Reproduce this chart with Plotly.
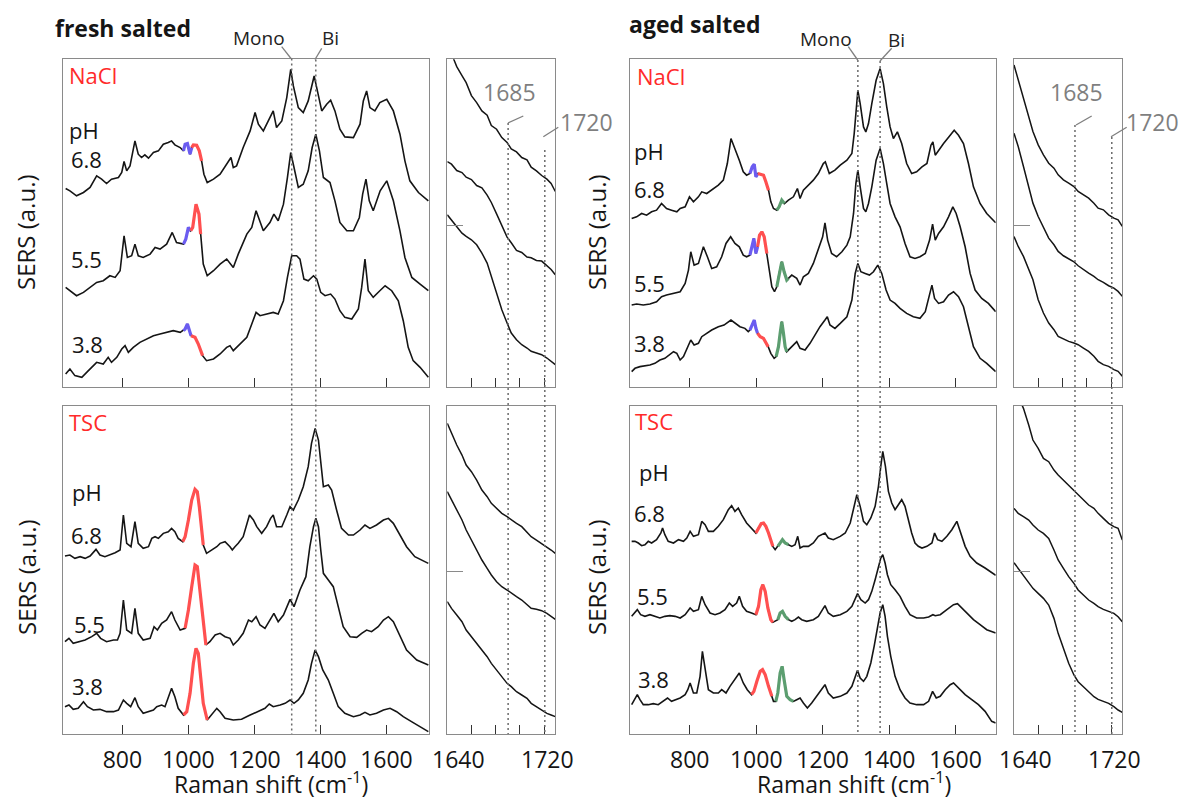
import plotly.graph_objects as go

# ---------------- DATA (Raman shift in cm-1, SERS intensity in a.u.) ----------------
# fresh salted, NaCl
FRESH_NACL_68_X = [628, 641, 661, 682, 702, 722, 737, 752, 767, 788, 798, 805, 813, 823, 838, 848, 858, 868, 879, 894, 909, 924, 939, 949, 959, 975, 985, 990, 997, 1005, 1010, 1015, 1025, 1033, 1040, 1047, 1057, 1076, 1096, 1116, 1129, 1136, 1146, 1166, 1187, 1202, 1212, 1227, 1242, 1257, 1267, 1283, 1298, 1310, 1318, 1333, 1348, 1363, 1381, 1394, 1404, 1419, 1431, 1444, 1459, 1474, 1500, 1520, 1530, 1540, 1550, 1565, 1580, 1601, 1621, 1641, 1656, 1671, 1697, 1727]
FRESH_NACL_68_Y = [597, 590, 575, 585, 600, 635, 625, 612, 625, 630, 645, 678, 650, 665, 740, 700, 690, 698, 688, 705, 710, 730, 735, 740, 728, 720, 710, 730, 732, 700, 720, 728, 727, 710, 680, 640, 615, 625, 640, 670, 690, 660, 665, 720, 770, 825, 790, 770, 800, 830, 780, 800, 870, 955, 905, 840, 825, 860, 935, 880, 830, 850, 862, 830, 775, 752, 750, 790, 860, 890, 840, 830, 855, 865, 830, 760, 680, 620, 585, 560]
FRESH_NACL_55_X = [628, 641, 661, 682, 702, 722, 742, 762, 778, 793, 805, 815, 828, 838, 848, 863, 884, 899, 914, 934, 951, 964, 985, 992, 1000, 1007, 1013, 1023, 1032, 1037, 1045, 1057, 1076, 1096, 1116, 1136, 1151, 1177, 1192, 1205, 1215, 1227, 1247, 1259, 1272, 1288, 1300, 1310, 1320, 1333, 1348, 1363, 1375, 1386, 1397, 1409, 1429, 1444, 1459, 1480, 1500, 1518, 1528, 1538, 1548, 1560, 1581, 1601, 1621, 1641, 1656, 1677, 1702, 1727]
FRESH_NACL_55_Y = [300, 290, 275, 285, 300, 315, 320, 335, 330, 350, 455, 390, 395, 430, 395, 390, 400, 420, 415, 430, 465, 435, 430, 445, 480, 470, 480, 550, 520, 460, 370, 335, 350, 370, 385, 360, 400, 460, 480, 530, 500, 470, 495, 520, 500, 550, 630, 705, 660, 600, 610, 650, 720, 760, 710, 630, 615, 560, 495, 470, 470, 510, 580, 625, 560, 530, 590, 620, 560, 470, 390, 330, 310, 290]
FRESH_NACL_38_X = [628, 641, 656, 677, 697, 722, 742, 757, 767, 783, 798, 808, 818, 833, 853, 874, 894, 914, 934, 954, 975, 985, 990, 997, 1003, 1008, 1020, 1030, 1043, 1055, 1076, 1096, 1116, 1126, 1136, 1156, 1177, 1192, 1205, 1217, 1237, 1257, 1272, 1288, 1300, 1313, 1328, 1338, 1350, 1363, 1379, 1389, 1401, 1414, 1431, 1444, 1459, 1474, 1495, 1515, 1525, 1535, 1545, 1560, 1580, 1596, 1616, 1636, 1651, 1666, 1681, 1702, 1727]
FRESH_NACL_38_Y = [40, 55, 35, 30, 50, 75, 70, 90, 75, 90, 115, 125, 105, 120, 135, 145, 155, 160, 165, 170, 165, 170, 175, 190, 170, 155, 150, 130, 95, 80, 85, 100, 120, 125, 110, 130, 150, 190, 225, 215, 220, 225, 220, 260, 330, 395, 395, 385, 325, 320, 335, 325, 285, 275, 280, 265, 230, 210, 205, 235, 300, 385, 290, 270, 290, 305, 290, 260, 200, 120, 80, 60, 30]
FRESH_NACL_68_BANDS = [(985, 1010, "a"), (1010, 1040, "b")]
FRESH_NACL_55_BANDS = [(985, 1007, "a"), (1007, 1037, "b")]
FRESH_NACL_38_BANDS = [(985, 1008, "a"), (1008, 1043, "b")]

# fresh salted, TSC
FRESH_TSC_68_X = [626, 641, 656, 672, 687, 702, 720, 732, 747, 762, 778, 793, 803, 813, 826, 838, 848, 863, 879, 889, 899, 909, 924, 939, 949, 959, 969, 983, 990, 1000, 1010, 1020, 1027, 1033, 1040, 1045, 1055, 1070, 1086, 1096, 1111, 1126, 1133, 1141, 1151, 1166, 1179, 1185, 1197, 1207, 1222, 1237, 1249, 1257, 1267, 1283, 1298, 1308, 1318, 1333, 1348, 1363, 1373, 1384, 1394, 1402, 1409, 1424, 1434, 1449, 1464, 1485, 1500, 1520, 1535, 1550, 1570, 1591, 1606, 1621, 1641, 1661, 1686, 1727]
FRESH_TSC_68_Y = [534, 537, 527, 532, 527, 534, 554, 537, 532, 537, 544, 552, 657, 572, 562, 637, 572, 557, 562, 587, 592, 587, 602, 607, 617, 607, 587, 577, 592, 642, 702, 734, 727, 682, 602, 567, 542, 552, 562, 572, 577, 562, 552, 562, 572, 592, 642, 657, 642, 622, 602, 622, 647, 657, 622, 622, 657, 682, 672, 702, 742, 802, 872, 917, 882, 802, 742, 747, 732, 672, 617, 597, 597, 612, 627, 617, 627, 642, 647, 632, 597, 562, 532, 512]
FRESH_TSC_55_X = [626, 638, 651, 672, 687, 707, 722, 734, 752, 773, 785, 793, 803, 813, 828, 838, 848, 863, 884, 896, 906, 919, 934, 949, 959, 975, 990, 1000, 1010, 1020, 1027, 1035, 1043, 1053, 1065, 1081, 1096, 1111, 1126, 1136, 1151, 1166, 1182, 1192, 1205, 1217, 1232, 1247, 1259, 1272, 1288, 1308, 1320, 1338, 1356, 1368, 1379, 1386, 1394, 1401, 1409, 1424, 1439, 1454, 1469, 1490, 1510, 1525, 1540, 1555, 1575, 1591, 1606, 1621, 1641, 1661, 1692, 1727]
FRESH_TSC_55_Y = [277, 287, 272, 277, 282, 292, 302, 287, 277, 282, 282, 302, 402, 312, 302, 377, 302, 282, 287, 322, 312, 332, 342, 367, 342, 312, 317, 372, 442, 507, 502, 432, 352, 267, 277, 297, 302, 292, 287, 267, 282, 302, 342, 337, 352, 327, 317, 342, 362, 337, 357, 404, 382, 432, 472, 562, 622, 647, 622, 552, 482, 462, 442, 382, 322, 292, 290, 302, 312, 307, 322, 342, 352, 337, 292, 252, 222, 207]
FRESH_TSC_38_X = [626, 638, 651, 666, 682, 694, 712, 732, 752, 773, 788, 803, 813, 825, 838, 848, 863, 879, 894, 904, 919, 929, 939, 949, 959, 969, 985, 995, 1005, 1015, 1023, 1030, 1037, 1045, 1057, 1070, 1086, 1096, 1111, 1136, 1161, 1187, 1212, 1232, 1245, 1257, 1278, 1293, 1308, 1320, 1333, 1348, 1363, 1373, 1384, 1394, 1407, 1424, 1439, 1454, 1474, 1500, 1520, 1535, 1550, 1570, 1591, 1611, 1631, 1651, 1676, 1702, 1727]
FRESH_TSC_38_Y = [82, 87, 74, 77, 97, 82, 72, 74, 67, 67, 72, 102, 92, 82, 109, 82, 62, 67, 72, 82, 87, 82, 107, 137, 112, 77, 57, 67, 122, 212, 257, 242, 172, 92, 42, 57, 77, 67, 47, 42, 44, 57, 67, 77, 90, 82, 87, 92, 102, 92, 102, 122, 162, 212, 252, 232, 192, 162, 122, 82, 62, 52, 57, 65, 57, 62, 72, 77, 67, 52, 37, 22, 7]
FRESH_TSC_68_BANDS = [(983, 1045, "b")]
FRESH_TSC_55_BANDS = [(990, 1053, "b")]
FRESH_TSC_38_BANDS = [(985, 1057, "b")]

# aged salted, NaCl
AGED_NACL_68_X = [625, 640, 655, 670, 685, 700, 715, 730, 745, 761, 771, 786, 799, 811, 826, 836, 851, 866, 886, 901, 913, 924, 936, 949, 961, 971, 981, 988, 994, 999, 1005, 1012, 1022, 1029, 1037, 1044, 1052, 1062, 1069, 1077, 1085, 1097, 1112, 1124, 1132, 1142, 1157, 1172, 1187, 1202, 1208, 1220, 1237, 1253, 1273, 1288, 1295, 1301, 1306, 1313, 1323, 1330, 1338, 1348, 1361, 1373, 1383, 1393, 1403, 1413, 1425, 1438, 1453, 1468, 1483, 1499, 1514, 1526, 1532, 1539, 1549, 1564, 1584, 1596, 1609, 1624, 1639, 1654, 1674, 1694, 1721]
AGED_NACL_68_Y = [507, 512, 522, 517, 527, 532, 552, 537, 532, 527, 537, 542, 572, 557, 572, 587, 582, 592, 607, 622, 672, 747, 717, 682, 647, 637, 642, 662, 670, 632, 642, 640, 637, 617, 592, 557, 537, 532, 542, 562, 552, 562, 572, 597, 567, 592, 607, 622, 642, 672, 677, 642, 652, 667, 682, 702, 762, 842, 892, 852, 782, 767, 792, 852, 922, 957, 912, 842, 782, 747, 767, 732, 672, 642, 647, 662, 672, 727, 737, 697, 712, 732, 757, 772, 757, 732, 672, 602, 552, 522, 494]
AGED_NACL_55_X = [625, 640, 660, 680, 700, 715, 730, 751, 771, 786, 796, 803, 813, 826, 841, 853, 866, 881, 896, 909, 923, 936, 949, 961, 971, 981, 986, 993, 999, 1004, 1010, 1017, 1024, 1032, 1040, 1047, 1055, 1062, 1069, 1077, 1084, 1092, 1097, 1107, 1122, 1132, 1142, 1157, 1172, 1187, 1200, 1207, 1215, 1227, 1242, 1258, 1273, 1283, 1293, 1300, 1306, 1313, 1323, 1330, 1338, 1348, 1361, 1373, 1383, 1393, 1403, 1418, 1433, 1448, 1463, 1478, 1493, 1509, 1522, 1531, 1539, 1549, 1564, 1579, 1592, 1602, 1614, 1629, 1644, 1659, 1679, 1699, 1721]
AGED_NACL_55_Y = [247, 250, 247, 250, 257, 272, 277, 282, 287, 312, 352, 407, 367, 372, 422, 392, 357, 362, 392, 432, 452, 432, 422, 397, 392, 397, 422, 447, 402, 422, 457, 467, 452, 402, 342, 302, 287, 302, 342, 377, 347, 322, 327, 337, 327, 307, 332, 342, 372, 412, 452, 494, 442, 402, 392, 407, 427, 452, 522, 612, 652, 602, 537, 527, 552, 602, 682, 717, 672, 612, 552, 512, 482, 432, 392, 387, 392, 402, 442, 490, 442, 462, 482, 512, 542, 522, 482, 422, 342, 292, 267, 252, 227]
AGED_NACL_38_X = [625, 635, 650, 665, 680, 695, 710, 725, 740, 751, 761, 771, 781, 793, 803, 813, 826, 836, 851, 866, 886, 903, 924, 939, 951, 966, 976, 981, 986, 994, 999, 1004, 1012, 1022, 1030, 1036, 1044, 1054, 1060, 1067, 1072, 1077, 1082, 1087, 1092, 1102, 1114, 1122, 1132, 1147, 1162, 1177, 1192, 1207, 1214, 1222, 1237, 1253, 1273, 1288, 1298, 1306, 1315, 1328, 1341, 1353, 1366, 1378, 1391, 1403, 1418, 1433, 1453, 1473, 1493, 1509, 1522, 1529, 1537, 1549, 1564, 1579, 1594, 1609, 1624, 1639, 1654, 1674, 1694, 1721]
AGED_NACL_38_Y = [47, 57, 62, 64, 67, 72, 82, 87, 97, 107, 102, 82, 92, 122, 142, 127, 132, 152, 162, 172, 182, 187, 202, 192, 182, 177, 167, 172, 182, 202, 177, 162, 152, 147, 132, 122, 102, 87, 92, 122, 162, 197, 162, 122, 107, 117, 127, 137, 117, 112, 132, 157, 182, 202, 212, 187, 177, 192, 212, 262, 342, 372, 347, 342, 337, 347, 367, 342, 292, 262, 252, 237, 222, 212, 207, 227, 282, 307, 267, 252, 257, 277, 287, 272, 242, 182, 122, 87, 72, 47]
AGED_NACL_68_BANDS = [(981, 1005, "a"), (1005, 1037, "b"), (1062, 1085, "c")]
AGED_NACL_55_BANDS = [(981, 1004, "a"), (1004, 1032, "b"), (1062, 1097, "c")]
AGED_NACL_38_BANDS = [(981, 1004, "a"), (1004, 1036, "b"), (1060, 1092, "c")]

# aged salted, TSC
AGED_TSC_68_X = [625, 635, 645, 655, 665, 675, 685, 700, 713, 718, 725, 735, 751, 766, 781, 791, 801, 811, 826, 836, 846, 856, 871, 886, 901, 916, 926, 936, 946, 956, 971, 986, 999, 1007, 1015, 1022, 1029, 1037, 1045, 1050, 1057, 1065, 1072, 1079, 1087, 1097, 1107, 1117, 1125, 1132, 1142, 1157, 1172, 1187, 1197, 1207, 1217, 1232, 1253, 1268, 1283, 1293, 1303, 1313, 1323, 1333, 1345, 1358, 1368, 1375, 1381, 1389, 1398, 1408, 1418, 1428, 1438, 1448, 1458, 1468, 1478, 1488, 1499, 1514, 1529, 1537, 1546, 1559, 1574, 1589, 1604, 1614, 1629, 1644, 1664, 1689, 1721]
AGED_TSC_68_Y = [578, 578, 573, 565, 568, 578, 573, 583, 603, 618, 598, 578, 573, 583, 578, 588, 608, 593, 598, 638, 628, 608, 608, 623, 643, 673, 685, 668, 678, 658, 633, 618, 603, 618, 631, 633, 623, 603, 578, 563, 553, 563, 573, 583, 573, 568, 563, 568, 593, 558, 563, 563, 573, 593, 598, 603, 588, 583, 593, 603, 633, 673, 718, 683, 638, 628, 648, 683, 743, 803, 848, 803, 728, 693, 673, 688, 703, 683, 643, 603, 573, 563, 558, 563, 573, 603, 583, 578, 593, 613, 638, 608, 563, 533, 513, 498, 476]
AGED_TSC_55_X = [625, 635, 642, 652, 665, 680, 695, 710, 725, 740, 756, 771, 786, 801, 811, 826, 836, 846, 861, 876, 891, 906, 919, 929, 941, 949, 959, 971, 986, 999, 1007, 1014, 1020, 1027, 1035, 1044, 1050, 1057, 1065, 1072, 1079, 1087, 1097, 1107, 1117, 1127, 1137, 1152, 1172, 1187, 1200, 1207, 1217, 1232, 1253, 1273, 1288, 1298, 1305, 1315, 1328, 1338, 1348, 1358, 1368, 1375, 1381, 1388, 1395, 1405, 1418, 1433, 1448, 1463, 1483, 1504, 1519, 1532, 1539, 1554, 1574, 1594, 1606, 1619, 1634, 1654, 1674, 1694, 1721]
AGED_TSC_55_Y = [353, 363, 373, 358, 353, 358, 353, 348, 353, 355, 353, 348, 358, 378, 368, 373, 413, 388, 363, 358, 363, 373, 393, 383, 393, 413, 383, 368, 363, 358, 383, 433, 448, 428, 378, 343, 335, 338, 343, 363, 368, 353, 343, 338, 343, 351, 343, 338, 343, 353, 373, 385, 363, 353, 358, 368, 383, 403, 421, 403, 393, 403, 428, 463, 503, 528, 538, 513, 478, 448, 433, 413, 383, 358, 348, 348, 351, 358, 355, 358, 373, 388, 391, 378, 363, 343, 328, 313, 303]
AGED_TSC_38_X = [625, 635, 642, 650, 660, 675, 690, 705, 720, 733, 745, 759, 771, 786, 794, 801, 811, 821, 831, 838, 846, 856, 871, 886, 896, 909, 921, 936, 949, 961, 973, 986, 993, 1002, 1012, 1019, 1027, 1037, 1047, 1052, 1059, 1065, 1072, 1078, 1084, 1092, 1102, 1112, 1122, 1132, 1142, 1154, 1167, 1182, 1197, 1207, 1217, 1232, 1253, 1273, 1288, 1298, 1305, 1313, 1323, 1333, 1345, 1355, 1365, 1373, 1381, 1388, 1395, 1405, 1418, 1433, 1448, 1463, 1483, 1504, 1519, 1531, 1542, 1554, 1569, 1584, 1594, 1609, 1629, 1649, 1669, 1689, 1709, 1721]
AGED_TSC_38_Y = [88, 108, 118, 103, 88, 88, 91, 88, 98, 108, 98, 103, 108, 118, 133, 153, 123, 123, 173, 248, 193, 133, 123, 123, 133, 123, 143, 163, 183, 153, 133, 118, 128, 158, 188, 193, 178, 143, 113, 98, 98, 123, 183, 203, 163, 113, 103, 98, 103, 108, 93, 78, 93, 113, 133, 148, 123, 108, 113, 123, 143, 173, 191, 168, 158, 173, 213, 263, 323, 363, 388, 353, 293, 233, 173, 133, 108, 93, 88, 88, 98, 128, 108, 113, 133, 148, 153, 138, 118, 103, 88, 68, 38, 33]
AGED_TSC_68_BANDS = [(999, 1050, "b"), (1065, 1097, "c")]
AGED_TSC_55_BANDS = [(999, 1050, "b"), (1065, 1097, "c")]
AGED_TSC_38_BANDS = [(986, 1047, "b"), (1059, 1112, "c")]

# zoomed 1627-1730 cm-1 region (insets)
INSET_X = [1627, 1631, 1636, 1641, 1645, 1650, 1655, 1660, 1665, 1669, 1674, 1679, 1684, 1688, 1693, 1698, 1703, 1707, 1712, 1717, 1722, 1726, 1730]
FRESH_NACL_INSET_68 = [1033, 1003, 963, 936, 915, 876, 855, 830, 817, 786, 775, 750, 735, 716, 707, 690, 683, 661, 650, 636, 625, 612, 588]
FRESH_NACL_INSET_55 = [678, 670, 651, 645, 631, 624, 606, 599, 577, 555, 521, 485, 451, 434, 411, 405, 391, 389, 381, 379, 366, 354, 338]
FRESH_NACL_INSET_38 = [518, 503, 483, 463, 453, 443, 428, 403, 373, 333, 283, 233, 193, 163, 143, 128, 118, 108, 103, 98, 88, 78, 68]
FRESH_TSC_INSET_68 = [932, 902, 867, 837, 807, 787, 762, 732, 712, 692, 677, 662, 652, 642, 632, 622, 607, 592, 582, 572, 562, 552, 542]
FRESH_TSC_INSET_55 = [727, 702, 672, 642, 612, 582, 552, 522, 497, 477, 457, 442, 432, 422, 412, 402, 387, 377, 374, 370, 362, 352, 344]
FRESH_TSC_INSET_38 = [397, 377, 357, 337, 312, 292, 272, 252, 232, 212, 192, 172, 152, 142, 127, 117, 107, 92, 82, 72, 62, 57, 52]
AGED_NACL_INSET_68 = [968, 923, 868, 813, 768, 728, 698, 673, 658, 638, 623, 613, 603, 588, 578, 568, 553, 538, 533, 518, 508, 503, 483]
AGED_NACL_INSET_55 = [763, 723, 663, 603, 553, 513, 478, 448, 428, 408, 395, 385, 377, 365, 353, 343, 333, 323, 315, 305, 298, 288, 273]
AGED_NACL_INSET_38 = [453, 423, 393, 353, 323, 263, 223, 193, 173, 153, 145, 138, 133, 128, 118, 108, 93, 78, 68, 63, 53, 48, 33]
AGED_TSC_INSET_68 = [1042, 1012, 977, 927, 882, 857, 827, 817, 792, 777, 762, 747, 732, 717, 702, 687, 677, 662, 647, 632, 622, 617, 582]
AGED_TSC_INSET_55 = [677, 662, 652, 642, 627, 612, 602, 587, 552, 522, 497, 472, 452, 432, 417, 402, 392, 382, 374, 367, 362, 352, 337]
AGED_TSC_INSET_38 = [514, 497, 477, 457, 437, 422, 407, 387, 347, 302, 257, 212, 177, 157, 142, 127, 112, 104, 99, 92, 82, 72, 65]

MAIN_TICKS = [800, 1000, 1200, 1400, 1600]
INSET_TICKS = [1650, 1673, 1696, 1720]
INSET_LABELS = [1640, 1720]
PH_LABELS = ["6.8", "5.5", "3.8"]
MARKERS = {"Mono": 1310, "Bi": 1383}
INSET_MARKERS = [1685, 1720]

# ---------------- STYLE / LAYOUT ----------------
W, H = 1182, 800
FONT = "Open Sans, Noto Sans, DejaVu Sans, sans-serif"
BLACK = "#151515"
FRAME = "#8a8a8a"
GRAY = "#7f7f7f"
RED_TXT = "#ff2a2a"
BAND_COLORS = {"a": "#6b5cf0", "b": "#ff5050", "c": "#5c9e70"}


def px(x):
    return x / W


def py(y):
    return 1 - y / H


# panel boxes in pixels: left, right, top, bottom
BOX = {
    1: (63, 429, 59.3, 387.3),
    2: (447.3, 555.3, 59.3, 387.3),
    3: (63, 429, 405.7, 734),
    4: (447.3, 555.3, 405.7, 734),
    5: (630, 995.7, 59.3, 387.3),
    6: (1014, 1122.3, 59.3, 387.3),
    7: (630, 995.7, 405.7, 734),
    8: (1014, 1122.3, 405.7, 734),
}
XRANGE = {1: [620, 1729], 3: [620, 1729], 5: [620, 1721], 7: [620, 1721],
          2: [1627, 1730], 4: [1627, 1730], 6: [1627, 1730], 8: [1627, 1730]}
YRANGE = [0, 985]

fig = go.Figure()


def add_line(i, x, y, color, width):
    sfx = "" if i == 1 else str(i)
    fig.add_trace(go.Scatter(x=x, y=y, mode="lines", xaxis="x" + sfx, yaxis="y" + sfx,
                             line=dict(color=color, width=width), hoverinfo="skip",
                             showlegend=False))


main_sets = {
    1: [(FRESH_NACL_68_X, FRESH_NACL_68_Y, FRESH_NACL_68_BANDS),
        (FRESH_NACL_55_X, FRESH_NACL_55_Y, FRESH_NACL_55_BANDS),
        (FRESH_NACL_38_X, FRESH_NACL_38_Y, FRESH_NACL_38_BANDS)],
    3: [(FRESH_TSC_68_X, FRESH_TSC_68_Y, FRESH_TSC_68_BANDS),
        (FRESH_TSC_55_X, FRESH_TSC_55_Y, FRESH_TSC_55_BANDS),
        (FRESH_TSC_38_X, FRESH_TSC_38_Y, FRESH_TSC_38_BANDS)],
    5: [(AGED_NACL_68_X, AGED_NACL_68_Y, AGED_NACL_68_BANDS),
        (AGED_NACL_55_X, AGED_NACL_55_Y, AGED_NACL_55_BANDS),
        (AGED_NACL_38_X, AGED_NACL_38_Y, AGED_NACL_38_BANDS)],
    7: [(AGED_TSC_68_X, AGED_TSC_68_Y, AGED_TSC_68_BANDS),
        (AGED_TSC_55_X, AGED_TSC_55_Y, AGED_TSC_55_BANDS),
        (AGED_TSC_38_X, AGED_TSC_38_Y, AGED_TSC_38_BANDS)],
}
inset_sets = {
    2: [FRESH_NACL_INSET_68, FRESH_NACL_INSET_55, FRESH_NACL_INSET_38],
    4: [FRESH_TSC_INSET_68, FRESH_TSC_INSET_55, FRESH_TSC_INSET_38],
    6: [AGED_NACL_INSET_68, AGED_NACL_INSET_55, AGED_NACL_INSET_38],
    8: [AGED_TSC_INSET_68, AGED_TSC_INSET_55, AGED_TSC_INSET_38],
}

for i, spectra in main_sets.items():
    for xs, ys, bands in spectra:
        add_line(i, xs, ys, BLACK, 1.6)
        for lo, hi, key in bands:
            pts = [(a, b) for a, b in zip(xs, ys) if lo <= a <= hi]
            add_line(i, [p[0] for p in pts], [p[1] for p in pts], BAND_COLORS[key], 3.2)

for i, curves in inset_sets.items():
    for ys in curves:
        add_line(i, INSET_X, ys, BLACK, 1.5)

layout = dict(width=W, height=H, margin=dict(l=0, r=0, t=0, b=0),
              paper_bgcolor="white", plot_bgcolor="white",
              font=dict(family=FONT, color=BLACK, size=22), showlegend=False)

for i, (l, r, t, b) in BOX.items():
    sfx = "" if i == 1 else str(i)
    inset = i in (2, 4, 6, 8)
    xa = dict(domain=[px(l), px(r)], range=XRANGE[i], anchor="y" + sfx,
              showline=True, mirror=True, linecolor=FRAME, linewidth=1.3,
              showgrid=False, zeroline=False, ticks="inside", ticklen=9,
              tickwidth=1.3, tickcolor="#333333", tickmode="array",
              tickvals=INSET_TICKS if inset else MAIN_TICKS,
              showticklabels=(i in (3, 7)), ticklabelstandoff=5,
              tickfont=dict(size=23, family=FONT, color=BLACK))
    ya = dict(domain=[py(b), py(t)], range=YRANGE, anchor="x" + sfx,
              showline=True, mirror=True, linecolor=FRAME, linewidth=1.3,
              showgrid=False, zeroline=False, showticklabels=False)
    if inset:
        ya.update(ticks="inside", tickmode="array", tickvals=[487], ticklen=16,
                  tickwidth=1.2, tickcolor=FRAME)
    else:
        ya.update(ticks="")
    layout["xaxis" + sfx] = xa
    layout["yaxis" + sfx] = ya

fig.update_layout(**layout)

ann = []


def text(x, y, s, size=22, color=BLACK, bold=False, angle=0, xref="paper"):
    ann.append(dict(x=x if xref != "paper" else px(x), y=py(y), xref=xref, yref="paper",
                    text=("<b>%s</b>" % s) if bold else s, showarrow=False,
                    xanchor="center", yanchor="middle", textangle=angle,
                    font=dict(size=size, color=color, family=FONT)))


# titles
text(123, 28, "fresh salted", size=23, bold=True)
text(694, 24, "aged salted", size=23, bold=True)
# peak markers
text(259, 38, "Mono", size=19, color="#222222")
text(330, 38, "Bi", size=19, color="#222222")
text(826, 39, "Mono", size=19, color="#222222")
text(896, 40, "Bi", size=19, color="#222222")
# salt labels
text(93, 75, "NaCl", color=RED_TXT)
text(661, 76, "NaCl", color=RED_TXT)
text(87.5, 421.5, "TSC", color=RED_TXT)
text(654, 421, "TSC", color=RED_TXT)
# pH labels
for (xx, yy), s in zip([(84, 130), (86, 159), (86, 259), (87.5, 344)], ["pH"] + PH_LABELS):
    text(xx, yy, s)
for (xx, yy), s in zip([(87, 492), (86, 535), (89, 623.5), (87.5, 686)], ["pH"] + PH_LABELS):
    text(xx, yy, s)
for (xx, yy), s in zip([(649, 151), (649, 189), (649, 282.5), (650, 343)], ["pH"] + PH_LABELS):
    text(xx, yy, s)
for (xx, yy), s in zip([(654, 472), (649, 512.5), (652.5, 595.5), (653.5, 679)], ["pH"] + PH_LABELS):
    text(xx, yy, s)
# y titles
for xx, yy in [(25, 232), (26, 577), (596, 232), (596, 577)]:
    text(xx, yy, "SERS (a.u.)", size=24, angle=-90)
# x titles
text(271, 783, "Raman shift (cm<sup>-1</sup>)", size=23)
text(854, 783, "Raman shift (cm<sup>-1</sup>)", size=23)
# inset tick labels
for ax in ("x4", "x8"):
    text(INSET_LABELS[0] - 2, 759, str(INSET_LABELS[0]), size=23, xref=ax)
    text(INSET_LABELS[1] + 3, 759, str(INSET_LABELS[1]), size=23, xref=ax)
# inset marker labels
text(509, 92.5, str(INSET_MARKERS[0]), color=GRAY, size=23)
text(586, 122.5, str(INSET_MARKERS[1]), color=GRAY, size=23)
text(1076.5, 92.5, str(INSET_MARKERS[0]), color=GRAY, size=23)
text(1152.5, 122.5, str(INSET_MARKERS[1]), color=GRAY, size=23)

fig.update_layout(annotations=ann)

shapes = []


def vdot(xref, xv, y0, y1):
    shapes.append(dict(type="line", xref=xref, yref="paper", x0=xv, x1=xv,
                       y0=py(y0), y1=py(y1), line=dict(color="#6a6a6a", width=1.5, dash="2px,3px")))


def seg(x0, y0, x1, y1):
    shapes.append(dict(type="line", xref="paper", yref="paper", x0=px(x0), x1=px(x1),
                       y0=py(y0), y1=py(y1), line=dict(color=GRAY, width=1.3)))


# Mono / Bi dotted guides spanning both rows
vdot("x", MARKERS["Mono"] + 3, 58.5, 734)
vdot("x", MARKERS["Bi"] + 3, 59.5, 734)
vdot("x5", MARKERS["Mono"] - 4, 60, 734)
vdot("x5", MARKERS["Bi"] - 10, 61, 734)
seg(281.7, 46.7, 291, 58.5)
seg(321.7, 48.3, 315, 59.5)
seg(848.3, 46.7, 857.7, 60)
seg(891.7, 48.3, 880, 61)
# inset dotted guides
vdot("x2", INSET_MARKERS[0], 123, 734)
vdot("x2", INSET_MARKERS[1], 150, 734)
vdot("x6", INSET_MARKERS[0], 125, 734)
vdot("x6", INSET_MARKERS[1], 137, 734)
seg(508, 123, 523.3, 116)
seg(543.3, 136.7, 558.3, 127.3)
seg(1076, 125, 1091.7, 116)
seg(1111, 136.7, 1126.7, 127.3)

fig.update_layout(shapes=shapes)
fig.write_html("out.html", config={"displayModeBar": False},
               post_script="document.body.style.margin='0';document.body.style.overflow='hidden';")
